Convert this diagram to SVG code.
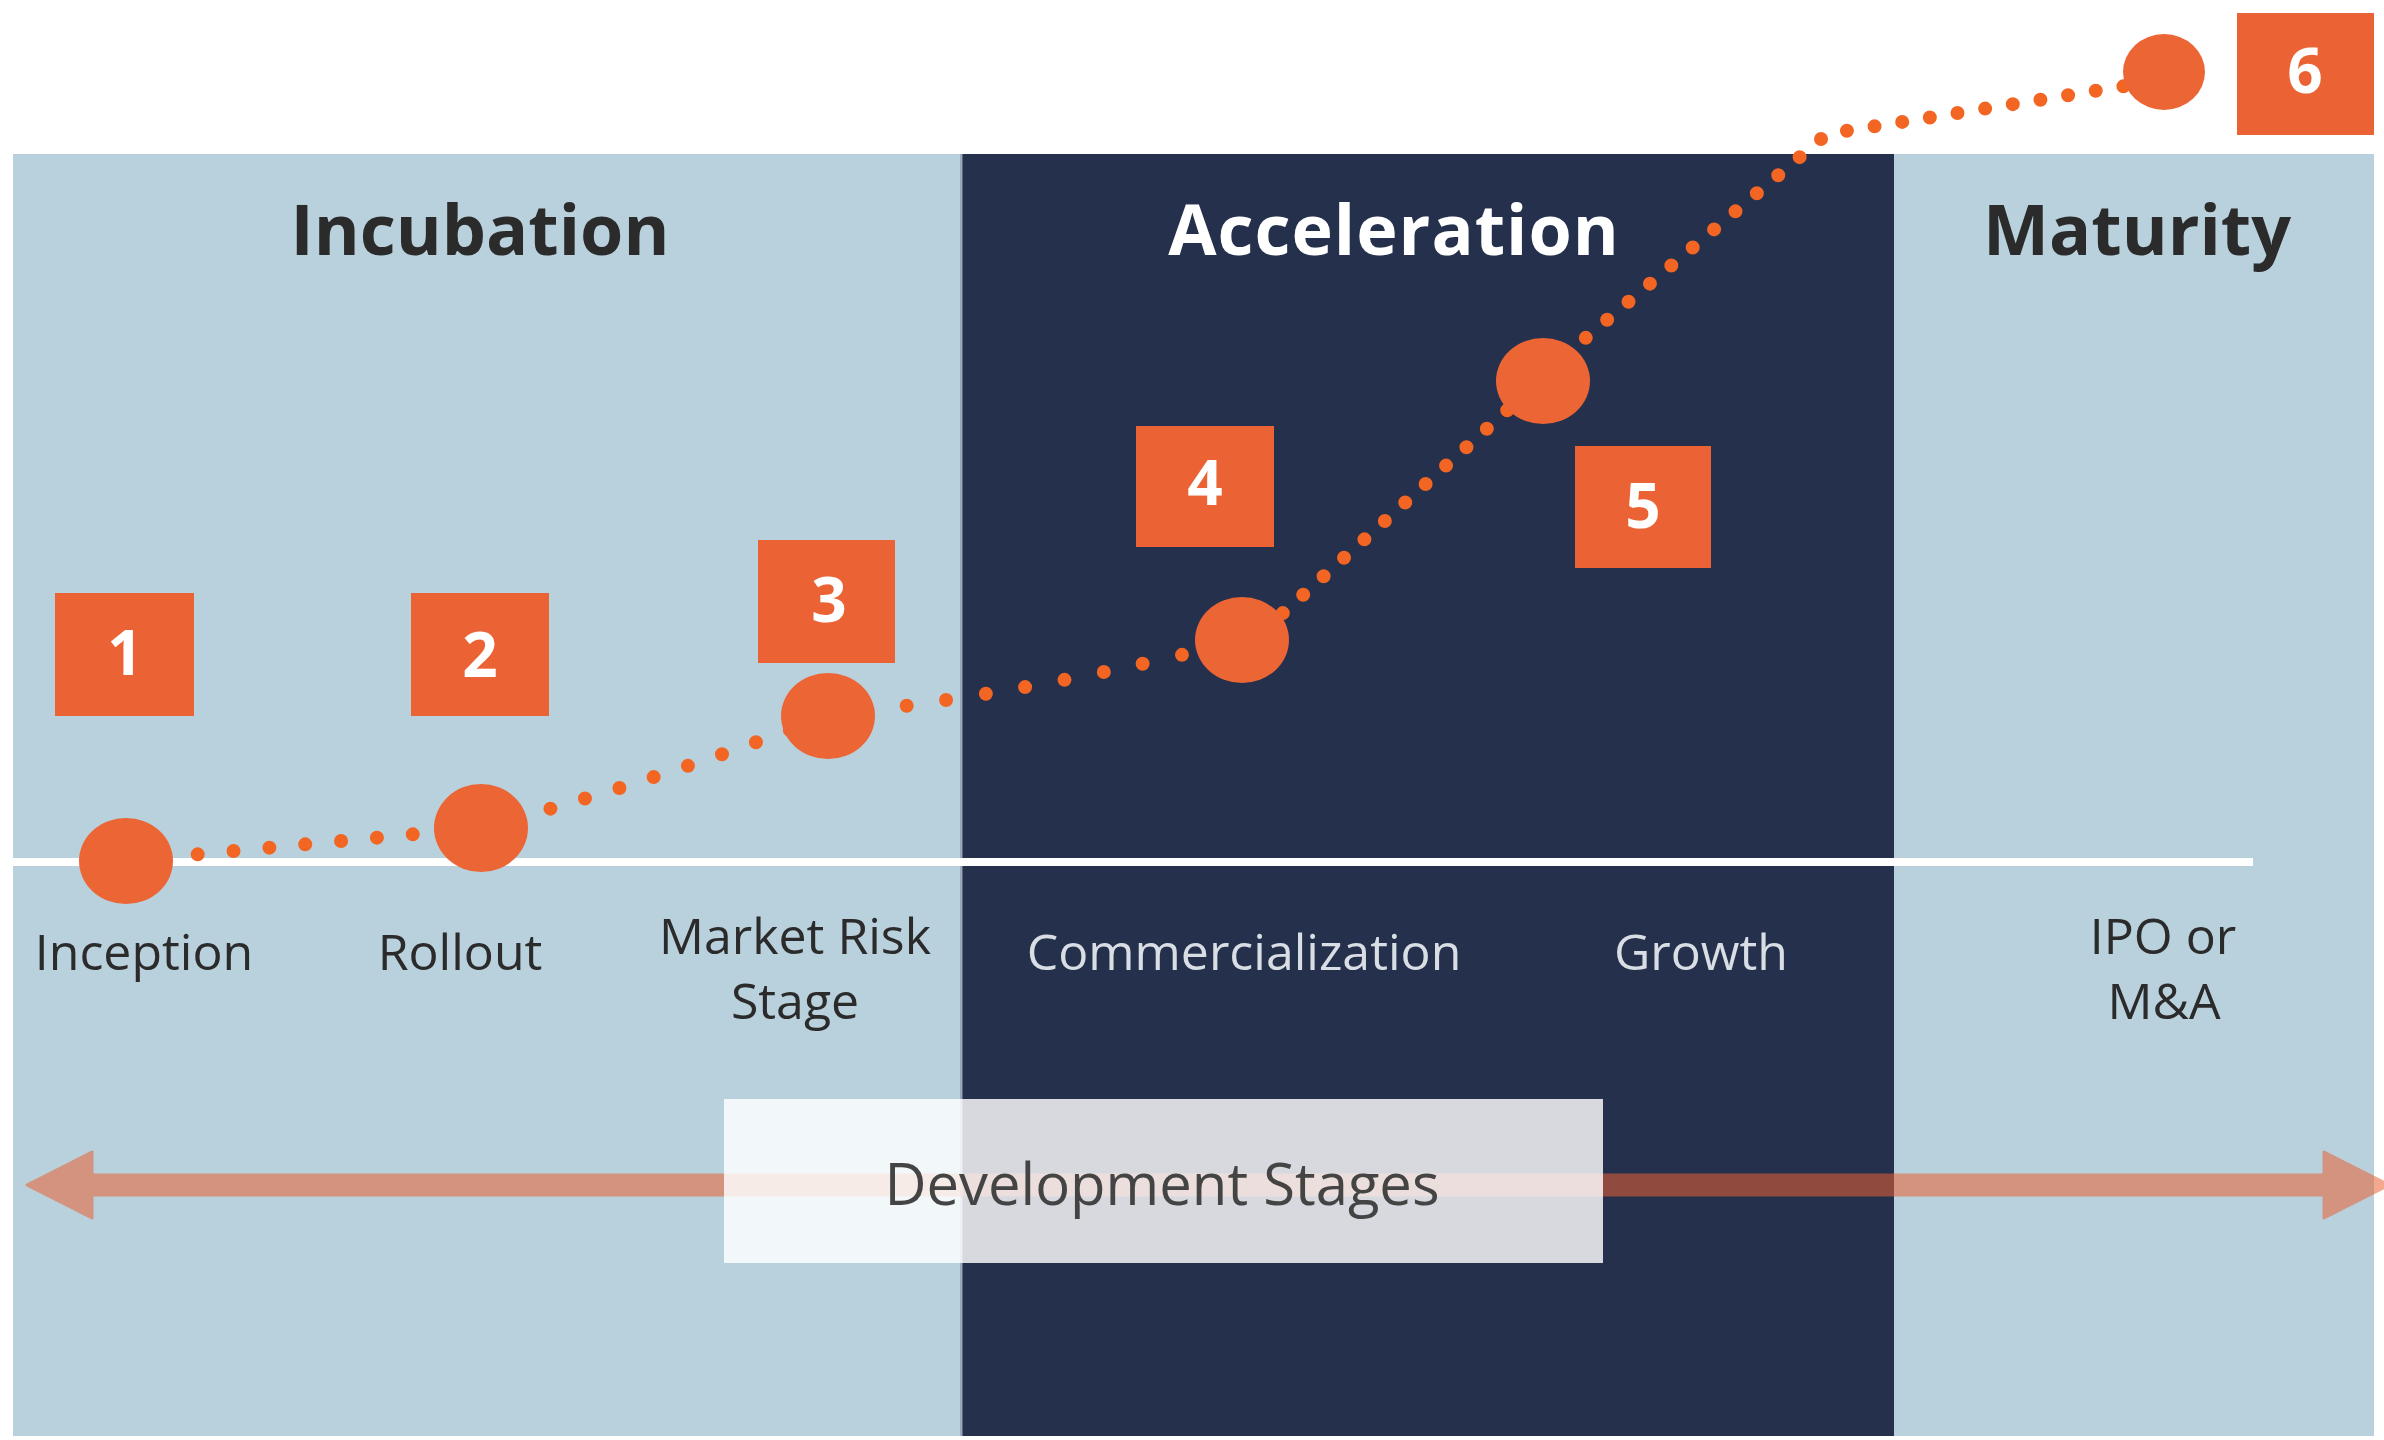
<svg xmlns="http://www.w3.org/2000/svg" width="2384" height="1440" viewBox="0 0 2384 1440">
<style>
.light{fill:#B9D1DC}
.dark{fill:#24304C}
.title{font-family:"Open Sans","Liberation Sans",sans-serif;font-weight:700;font-size:70px;text-anchor:middle}
.lbl{font-family:"Open Sans","Liberation Sans",sans-serif;font-weight:400;font-size:50px;text-anchor:middle}
.onlight{fill:#2b2b2b}
.ondark{fill:#D9DDE4}
.num{font-family:"Open Sans","Liberation Sans",sans-serif;font-weight:700;font-size:62px;text-anchor:middle;fill:#FFFFFF}
.box{fill:#EB6234}
.dot{fill:#EC6535}
.dots{fill:none;stroke:#F26522;stroke-width:14;stroke-linecap:round;stroke-linejoin:round}
</style>
<rect x="0" y="0" width="2384" height="1440" fill="#FFFFFF"/>
<g id="panels">
  <rect class="light" x="13" y="154" width="949" height="1282"/>
  <rect class="dark" x="962" y="154" width="932" height="1282"/>
  <rect class="light" x="1894" y="154" width="480" height="1282"/>
  <rect x="960" y="154" width="3" height="1282" fill="#7E8DA1" opacity="0.6"/>
</g>
<g id="titles">
  <text class="title onlight" x="480" y="255">Incubation</text>
  <text class="title" x="1394" y="255" fill="#FFFFFF" letter-spacing="1">Acceleration</text>
  <text class="title onlight" x="2137" y="255">Maturity</text>
</g>
<line id="baseline" x1="13" y1="862" x2="2253" y2="862" stroke="#FFFFFF" stroke-width="8"/>
<g id="stage-labels">
  <text class="lbl onlight" x="144" y="970">Inception</text>
  <text class="lbl onlight" x="460" y="970">Rollout</text>
  <text class="lbl onlight" x="795" y="954">Market Risk</text>
  <text class="lbl onlight" x="795" y="1019">Stage</text>
  <text class="lbl ondark" x="1244" y="970">Commercialization</text>
  <text class="lbl ondark" x="1701" y="970">Growth</text>
  <text class="lbl onlight" x="2163" y="954">IPO or</text>
  <text class="lbl onlight" x="2164" y="1019">M&amp;A</text>
</g>
<g id="connectors">
  <path class="dots" d="M126,861 L481,828" stroke-dasharray="0 36"/>
  <path class="dots" d="M481,828 Q660,780 827,716" stroke-dasharray="0 36"/>
  <path class="dots" d="M827,716 Q1050,690 1242,640" stroke-dasharray="0 40"/>
  <path class="dots" d="M1242,650 L1543,378" stroke-dasharray="0 27.5"/>
  <path class="dots" d="M1543,374 L1827,134 L2163,80" stroke-dasharray="0 28"/>
  <g id="dev-arrow" opacity="0.55">
    <path d="M27,1185 L92,1152 L92,1175 L2324,1175 L2324,1152 L2389,1185 L2324,1218 L2324,1195 L92,1195 L92,1218 Z" fill="#EB6234" stroke="#EB6234" stroke-width="3" stroke-linejoin="round"/>
  </g>
</g>
<g id="dev-label">
  <rect x="724" y="1099" width="879" height="164" fill="#FFFFFF" opacity="0.82"/>
  <text x="1162" y="1205" font-family="'Open Sans','Liberation Sans',sans-serif" font-size="58" text-anchor="middle" fill="#444444">Development Stages</text>
</g>
<g id="node1">
  <ellipse class="dot" cx="126" cy="861" rx="47" ry="43"/>
  <rect class="box" x="55" y="593" width="139" height="123"/>
  <text class="num" x="125" y="675">1</text>
</g>
<g id="node2">
  <ellipse class="dot" cx="481" cy="828" rx="47" ry="44"/>
  <rect class="box" x="411" y="593" width="138" height="123"/>
  <text class="num" x="480" y="677">2</text>
</g>
<g id="node3">
  <ellipse class="dot" cx="828" cy="716" rx="47" ry="43"/>
  <rect class="box" x="758" y="540" width="137" height="123"/>
  <text class="num" x="829" y="622">3</text>
</g>
<g id="node4">
  <ellipse class="dot" cx="1242" cy="640" rx="47" ry="43"/>
  <rect class="box" x="1136" y="426" width="138" height="121"/>
  <text class="num" x="1205" y="505">4</text>
</g>
<g id="node5">
  <ellipse class="dot" cx="1543" cy="381" rx="47" ry="43"/>
  <rect class="box" x="1575" y="446" width="136" height="122"/>
  <text class="num" x="1643" y="528">5</text>
</g>
<g id="node6">
  <ellipse class="dot" cx="2164" cy="72" rx="41" ry="38"/>
  <rect class="box" x="2237" y="13" width="137" height="122"/>
  <text class="num" x="2305" y="93">6</text>
</g>
</svg>
